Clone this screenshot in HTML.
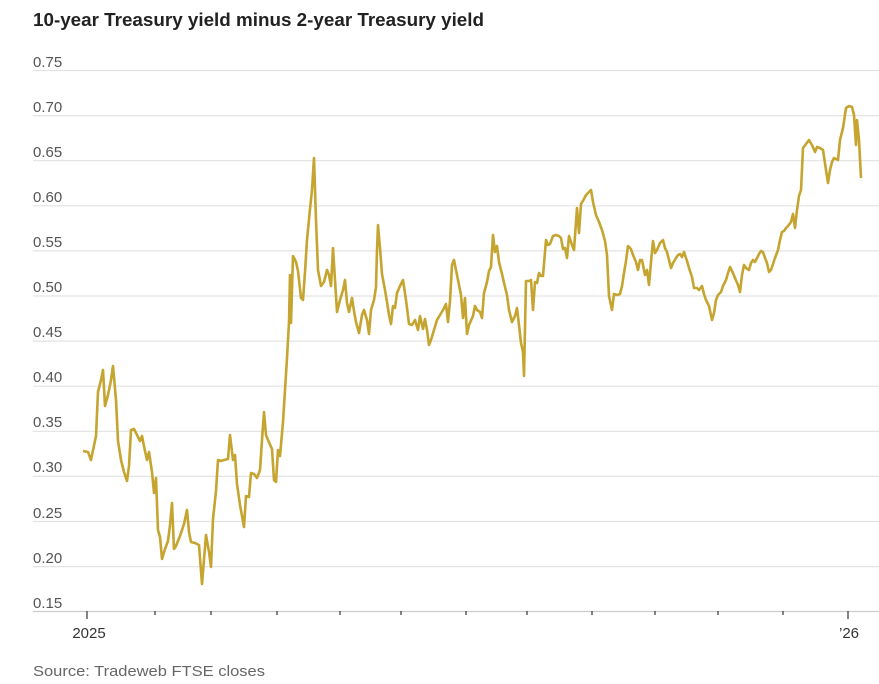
<!DOCTYPE html>
<html><head><meta charset="utf-8"><style>
html,body{margin:0;padding:0;background:#fff;width:879px;height:684px;overflow:hidden}
svg{display:block}
</style></head><body>
<svg width="879" height="684" xmlns="http://www.w3.org/2000/svg" font-family="Liberation Sans, sans-serif">
<text x="33" y="26" font-size="18" font-weight="bold" fill="#222" textLength="451" lengthAdjust="spacingAndGlyphs">10-year Treasury yield minus 2-year Treasury yield</text>
<g stroke="#e3e3e3" stroke-width="1.2">
<line x1="33" x2="879" y1="70.5" y2="70.5"/><line x1="33" x2="879" y1="115.6" y2="115.6"/>
<line x1="33" x2="879" y1="160.7" y2="160.7"/><line x1="33" x2="879" y1="205.8" y2="205.8"/>
<line x1="33" x2="879" y1="250.9" y2="250.9"/><line x1="33" x2="879" y1="296" y2="296"/>
<line x1="33" x2="879" y1="341.1" y2="341.1"/><line x1="33" x2="879" y1="386.2" y2="386.2"/>
<line x1="33" x2="879" y1="431.3" y2="431.3"/><line x1="33" x2="879" y1="476.4" y2="476.4"/>
<line x1="33" x2="879" y1="521.5" y2="521.5"/><line x1="33" x2="879" y1="566.6" y2="566.6"/>
</g>
<line x1="33" x2="879" y1="611.5" y2="611.5" stroke="#ccc" stroke-width="1.2"/>
<g font-size="15" fill="#555">
<text x="33" y="67">0.75</text><text x="33" y="112">0.70</text><text x="33" y="157">0.65</text>
<text x="33" y="202">0.60</text><text x="33" y="247">0.55</text><text x="33" y="292">0.50</text>
<text x="33" y="337">0.45</text><text x="33" y="382">0.40</text><text x="33" y="427">0.35</text>
<text x="33" y="472">0.30</text><text x="33" y="518">0.25</text><text x="33" y="563">0.20</text>
<text x="33" y="608">0.15</text>
</g>
<g stroke="#333" stroke-width="1.2">
<line x1="87" x2="87" y1="611" y2="619"/><line x1="155" x2="155" y1="611" y2="615"/>
<line x1="211" x2="211" y1="611" y2="615"/><line x1="277" x2="277" y1="611" y2="615"/>
<line x1="340" x2="340" y1="611" y2="615"/><line x1="401" x2="401" y1="611" y2="615"/>
<line x1="466" x2="466" y1="611" y2="615"/><line x1="527" x2="527" y1="611" y2="615"/>
<line x1="592" x2="592" y1="611" y2="615"/><line x1="655" x2="655" y1="611" y2="615"/>
<line x1="718" x2="718" y1="611" y2="615"/><line x1="783" x2="783" y1="611" y2="615"/>
<line x1="848" x2="848" y1="611" y2="619"/>
</g>
<g font-size="15" fill="#333" text-anchor="middle">
<text x="89" y="638">2025</text><text x="849" y="638">’26</text>
</g>
<text x="33" y="676" font-size="15" fill="#666" textLength="232" lengthAdjust="spacingAndGlyphs">Source: Tradeweb FTSE closes</text>
<polyline fill="none" stroke="#c5a42f" stroke-width="2.6" stroke-linejoin="round" points="83,451 88,452 91,460 96,436 98,392 101,380 103,370 105,406 108,395 111,380 113,366 116,400 118,441 121,460 124,472 127,481 129,466 131,430 134,429 137,435 140,441 142,436 145,451 147,460 149,452 152,472 154,493 156,478 158,530 160,537 162,559 165,549 168,541 170,525 172,503 174,549 176,546 180,536 184,524 187,510 189,532 191,542 195,543 199,545 202,584 206,535 209,552 211,567 213,519 216,491 218,460 221,461 224,460 228,459 230,435 233,460 235,455 237,484 240,505 244,527 246,496 249,497 251,473 254,474 257,478 260,470 262,440 264,412 266,435 268,440 272,449 274,480 276,482 278,450 280,456 283,422 285,390 287,358 289,322 290,275 291,323 293,256 296,262 298,271 301,298 303,300 305,272 307,240 310,209 312,190 314,158 316,220 318,270 321,286 324,282 327,270 329,275 331,286 333,248 335,280 337,312 340,300 343,290 345,280 347,303 349,312 352,298 354,311 356,322 359,333 362,315 364,310 367,320 369,334 371,310 374,300 376,287 377,250 378,225 380,248 382,274 385,290 387,302 389,315 391,324 393,306 395,308 397,293 400,286 403,280 406,300 409,324 412,325 415,320 418,330 420,316 423,329 425,319 427,330 429,345 431,340 434,330 437,320 440,315 443,310 446,304 448,322 450,301 452,265 454,260 456,270 459,285 461,295 463,318 465,298 467,334 469,325 473,316 475,306 477,310 480,312 482,318 484,293 487,282 489,271 491,267 493,235 495,252 497,246 499,262 502,274 505,287 507,295 509,310 512,322 515,316 517,308 519,325 521,343 523,352 524,376 526,281 529,281 531,280 533,310 535,282 537,283 539,273 541,276 543,276 546,240 548,245 550,244 553,236 556,235 559,236 561,238 563,249 565,248 567,258 569,236 572,245 574,250 577,208 579,233 581,204 584,199 586,195 589,192 591,190 593,202 596,215 599,222 602,230 605,241 607,255 609,296 612,310 614,294 617,295 620,294 622,286 624,273 626,261 628,246 631,249 633,255 636,262 638,270 640,260 642,260 645,275 647,270 649,285 651,262 653,241 655,253 657,250 660,243 663,240 665,248 667,252 669,260 671,268 673,263 676,258 678,255 680,254 682,257 684,252 687,261 689,268 692,277 694,288 697,288 699,290 702,286 704,294 706,300 709,306 712,320 714,313 716,300 718,295 721,292 723,286 726,280 728,273 730,267 733,273 735,278 738,285 740,292 742,275 744,265 746,268 749,270 751,263 753,260 755,262 757,258 759,254 761,251 763,252 765,258 767,263 769,272 771,270 773,264 775,258 778,250 780,240 782,232 784,231 786,228 788,226 791,222 793,214 795,228 797,210 799,196 801,190 803,148 806,144 809,140 812,145 815,152 817,147 820,148 823,150 826,170 828,183 830,170 832,162 834,158 838,160 840,140 843,128 846,108 849,106 852,107 854,115 856,145 857,120 859,140 861,178"/>
</svg>
</body></html>
